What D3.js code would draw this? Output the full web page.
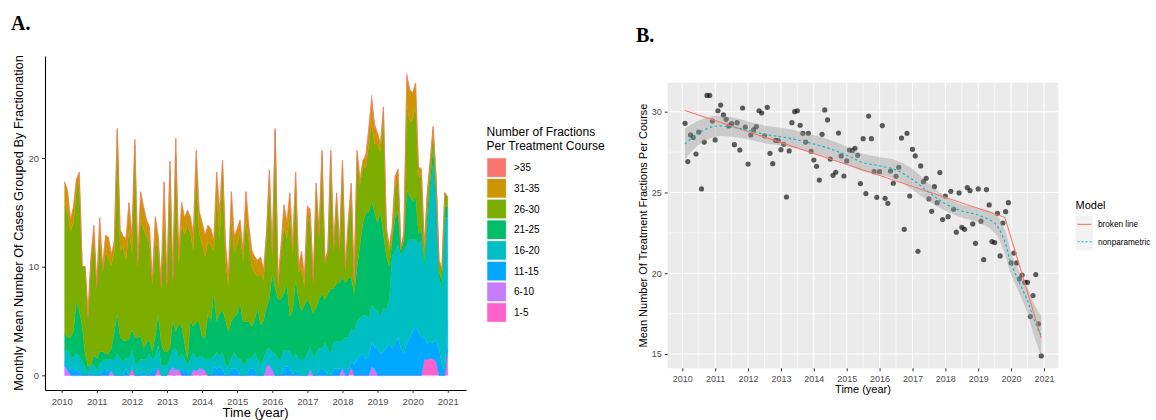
<!DOCTYPE html>
<html><head><meta charset="utf-8">
<script src="https://cdn.jsdelivr.net/npm/d3@7"></script>
<style>body{margin:0;background:#fff;} svg{display:block;font-family:"Liberation Sans",Arial,sans-serif;}</style>
</head><body><svg id="chart" width="1156" height="420"></svg>
<script>
// ================= DATA =================
// Panel A: monthly stacked values (Jan 2010 .. Dec 2020), 12 per row
const seriesKeys = ["1-5","6-10","11-15","16-20","21-25","26-30","31-35",">35"];
const legendOrder = [">35","31-35","26-30","21-25","16-20","11-15","6-10","1-5"];
const seriesColors = ["#FF61CC","#C77CFF","#00A9FF","#00BFC4","#00BE67","#7CAE00","#CD9600","#F8766D"];
const yearTicks = [2010,2011,2012,2013,2014,2015,2016,2017,2018,2019,2020,2021];
const yTicksA = [0,10,20];
const yTicksB = [15,20,25,30];

const f1_5 = [
0,0,0,0,0,0,0,0,0,0,0,0,
0,0,0,0,0,0,0,0,0,0,0,0.8,
0,0,0,0,0,0,0,0,0.8,0,0,0,
0.5,0,0,0.6,0,0,0,0,0,0.4,0,0,
0.5,0,0,0,0,0,0,0,0,0,0,0,
0,0,0,0,0,0,0,0,0,0,0,0,
0,0,0,0,0,0,0,0,0,0,0,0,
0,0,0,0,0,0,0,0,0,0,0,0,
0,0,0.8,0,0,0,0,0,0,0,0,0,
0,0,0,0,0,0,0,0,0,0,0,0,
0,0,0,1.5,1.4,1.6,1.5,1.3,0,0,0,2.3];
const f6_10 = [
0.9,0.5,0,0,0,0,0,0,0,0,0,0,
0,0,0,0,0.5,0,0,0,0,0,0,0,
0,0,0,0,0,0,0,0,0,0,0,0,
0,0.8,0.5,0,0,0,0,0,0.6,0,0.7,0.6,
0,0,0,0,0,0,0,0,0,0,0,0,
0,0,0,0,0,0,0,0,0,0.9,1.0,0.6,
0,0,0,0,0,0,0,0,0,0,0,0,
0.6,0,0,0,0,0,0,0,0,0,0,0.7,
0,0,0,0,0,0,0,0,0,0.8,0.6,0,
0,0,0,0,0,0,0,0,0,0,0,0,
0,0,0,0,0,0,0,0,0,0,0,0];
const f11_15 = [
0.3,0.3,0.5,0.6,0.5,0.3,0,0,0,0.3,0,0,
0,0.5,0.5,0.4,0,0,0,0,0,0.6,0,0,
0,0,0,0.4,0,0,0.6,0.5,0,0,0,0,
0,0,0,0,0.5,0.5,0.5,0,0,0,0,0,
0,0,0,0.8,0.6,0.8,0.6,0,0,0.6,0.6,0.6,
0,0,0,0.6,0.6,0.6,0,0,0,0,0,0,
0,0,0,0.8,0.8,0.8,0,0.5,0,0,0,0,
0,0,0,0.5,0.5,0.5,0,0,0.6,0.6,0.6,0,
0.5,0.5,0.5,1.0,1.5,1.8,2.0,1.5,1.8,2.2,2.0,2.5,
2.0,2.2,2.5,3.0,2.5,3.0,3.5,2.5,2.0,3.0,3.5,4.0,
4.5,4.0,3.5,2.0,1.5,1.5,1.5,2.0,2.5,1.0,0.5,2.8];
const f16_20 = [
1.2,1.5,1.3,1.0,1.5,1.5,1.2,0.8,0.3,0.7,1.0,0.5,
1.0,0.8,1.0,1.0,1.0,1.5,2.0,1.5,1.2,1.0,1.5,1.5,
1.2,1.0,1.5,1.0,1.5,2.0,0.8,1.2,2.0,1.0,0.8,1.0,
1.0,1.5,2.0,1.0,1.5,1.0,0.5,1.5,1.5,1.2,1.0,1.2,
1.0,1.5,1.5,1.0,1.5,1.0,1.5,1.0,0.8,1.0,1.5,1.0,
1.5,1.0,1.2,1.0,1.0,1.5,1.5,1.0,1.5,1.5,1.5,1.5,
2.0,1.5,1.5,1.5,1.5,1.5,1.5,1.5,1.5,1.5,1.5,2.0,
2.0,1.5,2.0,2.0,2.0,2.5,2.5,2.0,2.5,2.5,2.5,2.5,
3.0,3.0,3.0,3.0,3.5,3.5,3.5,4.0,3.5,3.5,3.5,3.5,
3.5,4.0,3.5,4.0,8.5,8.5,8.5,8.5,9.5,9.0,9.0,8.5,
8.0,8.0,9.0,6.5,11.0,14.0,16.5,13.0,6.5,7.0,14.0,9.5];
const f21_25 = [
1.5,1.2,1.7,2.4,4.9,4.2,3.3,1.2,0.5,0,0.9,1.0,
1.2,0.9,0.5,0.6,1.0,2.5,3.7,2.0,2.0,1.6,1.8,1.9,
2.3,2.5,2.1,1.1,1.5,1.3,0.8,1.9,2.9,2.0,1.4,1.2,
1.0,2.8,1.5,3.2,2.5,1.5,0.5,3.6,2.4,3.3,3.2,1.8,
1.9,4.2,3.5,5.8,2.9,3.9,3.9,4.1,3.2,3.4,3.3,4.1,
5.1,4.0,3.7,3.4,2.9,3.0,4.8,3.6,3.5,3.9,4.5,7.3,
6.0,5.5,5.5,5.2,6.2,3.1,4.5,6.8,5.5,4.4,5.0,5.0,
3.9,4.2,4.3,4.5,5.0,4.0,5.0,6.0,4.9,5.4,5.4,5.8,
5.0,5.5,4.7,3.5,5.0,6.7,8.5,9.5,9.7,9.5,8.9,8.0,
9.5,6.8,5.0,3.0,1.5,3.0,3.0,0.5,1.0,5.0,4.0,3.5,
4.0,1.0,1.0,0.5,0.9,0.9,1.5,0.7,0.5,0.8,1.0,0.9];
const f26_30 = [
11.6,11.5,9.8,10.0,10.1,11.9,5.5,8.0,4.5,9.4,10.7,6.5,
10.8,7.3,9.4,8.7,7.6,7.4,16.5,7.9,8.6,7.4,10.1,7.1,
17.7,6.5,10.8,11.0,9.8,8.9,6.1,8.5,6.1,5.0,13.1,6.0,
16.4,3.4,16.3,5.4,9.4,10.0,12.2,8.0,7.0,14.3,8.2,8.5,
7.5,6.6,7.0,3.8,11.7,6.9,13.3,5.5,4.1,9.4,5.9,6.3,
6.7,5.5,9.5,7.2,5.5,4.3,2.8,4.8,3.7,6.2,10.9,1.5,
14.4,1.2,4.5,6.2,4.1,9.4,5.1,8.9,2.5,4.0,1.6,7.6,
7.6,2.8,10.6,5.6,12.7,3.3,3.7,12.2,3.5,7.8,3.0,10.3,
1.2,4.8,7.7,1.0,10.2,5.5,5.3,4.1,6.1,7.2,6.3,7.3,
5.5,11.2,2.4,1.5,0.4,2.8,3.0,0.0,0.3,8.0,6.8,7.5,
8.4,5.4,4.7,1.0,1.7,1.5,1.6,1.0,1.1,0.9,1.3,0.9];
const f31_35 = [
2.3,2.0,1.0,1.5,1.0,0.8,0,0,0.4,0.5,1.2,0.3,
1.5,0.5,1.5,2.0,1.0,1.0,0.5,2.0,1.0,2.0,2.5,1.5,
0.5,0.5,2.5,2.0,1.5,1.5,0.5,2.5,1.0,0.5,2.5,0.3,
0.8,0.5,1.5,0.8,2.0,1.5,1.5,1.5,1.5,1.5,2.0,2.0,
2.0,1.5,1.5,1.0,2.0,2.5,0.5,1.5,1.0,2.5,1.5,1.5,
1.0,1.0,2.5,1.5,1.5,1.5,1.5,1.5,1.0,0.5,1.0,0.5,
0.3,0.3,0.5,2.0,1.5,2.0,1.0,1.0,0.5,1.5,1.0,1.0,
0.8,0.3,0.8,0.5,0.5,0.3,0.3,0.5,0.3,0.5,0.3,0.5,
0.3,0.5,1.0,0.3,0.5,0.5,0.5,1.0,1.5,2.0,1.5,1.0,
0.8,0.5,0.3,0.3,0.8,1.0,1.0,0.3,0.3,2.5,3.0,2.5,
2.0,0.8,0.8,0.3,0.3,0.3,0.3,0.3,0,0,0,0];
const fOver35 = [
0,0,0,0,0,0,0,0,0,0,0,0,
0,0,0,0,0,0,0,0,0,0,0,0,
0,0,0,0,0,0,0,0,0,0,0,0,
0,0,0,0,0,0,0,0,0,0,0,0,
0,0,0,0,0,0,0,0,0,0,0,0,
0,0,0,0,0,0,0,0,0,0,0,0,
0,0,0,0,0,0,0,0,0,0,0,0,
0.4,0,0,0,0,0,0,0,0,0,0,0,
0,0,0,0,0,0,0,0.3,0.3,0.6,0.4,0,
0,0,0,0,0,0,0,0,0,0.3,0,0,
0,0,0,0,0,0,0,0,0,0,0,0];

// Panel B: monthly mean fractions per course (Feb 2010 .. Dec 2020), 12 per row
const meanFractions = [
29.28,26.91,28.56,28.41,27.38,28.74,25.22,28.12,31.01,31.01,29.42,28.25,
30.06,30.41,29.80,29.53,29.12,29.26,27.96,29.32,27.63,30.23,29.05,26.76,
28.56,28.87,29.07,30.06,29.92,28.50,30.27,27.42,26.78,28.23,28.21,27.65,
27.98,24.72,27.57,29.32,30.00,30.06,29.16,28.66,28.12,28.66,27.55,27.01,
26.62,25.77,28.60,30.11,29.49,27.07,26.06,26.25,28.68,27.26,26.02,26.95,
27.63,27.59,27.73,27.30,25.55,28.33,24.93,29.73,28.33,26.29,24.70,26.29,
29.14,24.64,24.33,26.33,25.57,26.00,26.56,28.37,22.72,28.66,24.78,27.67,
27.26,21.36,26.64,25.67,25.88,24.60,23.83,25.36,24.37,26.23,23.32,24.78,
23.50,25.07,23.96,22.54,24.97,22.84,22.72,25.30,25.11,23.05,21.85,25.22,
23.22,20.84,25.18,24.23,21.96,21.90,23.71,21.07,23.11,23.81,24.37,20.64,
21.24,20.64,19.65,19.89,19.44,19.44,17.32,18.62,19.92,16.86,14.88];
const brokenX = [2010.083, 2019.81, 2020.917];
const brokenY = [30.08, 23.46, 16.0];
const loessX = [2010.083,2010.5,2011.0,2011.5,2012.0,2012.5,2013.0,2013.5,2014.0,2014.5,2015.0,2015.5,2016.0,2016.5,2017.0,2017.5,2018.0,2018.5,2019.0,2019.5,2019.8,2020.0,2020.3,2020.5,2020.7,2020.917];
const loessY = [28.0,28.7,29.1,29.05,28.85,28.6,28.45,28.25,28.0,27.7,27.3,26.85,26.65,26.4,25.8,25.0,24.3,23.85,23.6,23.1,22.0,20.6,19.2,18.3,17.1,16.1];
const loessSE = [0.95,0.75,0.65,0.6,0.55,0.55,0.55,0.55,0.55,0.55,0.55,0.55,0.55,0.6,0.65,0.55,0.45,0.4,0.45,0.6,0.75,0.7,0.65,0.8,1.0,1.25];
const modelLabels = ["broken line","nonparametric"];

// ================= DRAW =================
const svg = d3.select("#chart");
const monthA = d3.range(1, 133).map(i => 2010 + i / 12);
const monthB = d3.range(1, 132).map(i => 2010 + i / 12);
const seriesArrays = [f1_5, f6_10, f11_15, f16_20, f21_25, f26_30, f31_35, fOver35];
const colorOf = d3.scaleOrdinal().domain(seriesKeys).range(seriesColors);

// ---- Panel A ----
const xA = d3.scaleLinear().domain([2009.524, 2021.52]).range([45, 466]);
const yA = d3.scaleLinear().domain([-1.35, 29.39]).range([390, 56]);
const rows = monthA.map((m, i) => {
  const r = {t: m};
  seriesKeys.forEach((k, j) => r[k] = seriesArrays[j][i]);
  return r;
});
const stacked = d3.stack().keys(seriesKeys)(rows);
const areaA = d3.area().x(d => xA(d.data.t)).y0(d => yA(d[0])).y1(d => yA(d[1]));
svg.append("g").selectAll("path").data(stacked).join("path")
  .attr("d", areaA).attr("fill", d => colorOf(d.key))
  .attr("stroke", d => colorOf(d.key)).attr("stroke-width", 0.4);

const gxA = svg.append("g").attr("transform", "translate(0,390)")
  .call(d3.axisBottom(xA).tickValues(yearTicks).tickFormat(d3.format("d")).tickSize(3).tickSizeOuter(0));
const gyA = svg.append("g").attr("transform", "translate(45,0)")
  .call(d3.axisLeft(yA).tickValues(yTicksA).tickSize(3).tickSizeOuter(0));
[gxA, gyA].forEach(g => {
  g.select(".domain").attr("stroke", "#000").attr("stroke-width", 1.1);
  g.selectAll(".tick line").attr("stroke", "#333");
  g.selectAll(".tick text").attr("fill", "#4D4D4D").attr("font-size", 9.5).attr("font-family", "Liberation Sans, Arial, sans-serif");
});
gxA.selectAll(".tick text").attr("dy", "0.95em");

svg.append("text").attr("x", 255.5).attr("y", 417).attr("text-anchor", "middle")
  .attr("font-size", 13).text("Time (year)");
svg.append("text").attr("transform", "translate(23,223) rotate(-90)").attr("text-anchor", "middle")
  .attr("font-size", 12.8).text("Monthly Mean Number Of Cases Grouped By Fractionation");

// legend A
const legA = svg.append("g");
legA.append("text").attr("x", 486.5).attr("y", 136).attr("font-size", 12).text("Number of Fractions");
legA.append("text").attr("x", 486.5).attr("y", 150).attr("font-size", 12).text("Per Treatment Course");
legendOrder.forEach((k, i) => {
  const top = 158.3 + i * 20.7;
  legA.append("rect").attr("x", 486.5).attr("y", top - 1).attr("width", 20.4).attr("height", 20.4).attr("fill", "#F2F2F2");
  legA.append("rect").attr("x", 487.3).attr("y", top).attr("width", 18.6).attr("height", 18.6).attr("fill", colorOf(k));
  legA.append("text").attr("x", 514).attr("y", top + 9.3).attr("dy", "0.35em").attr("font-size", 10).text(k);
});

// ---- Panel B ----
const xB = d3.scaleLinear().domain([2009.556, 2021.435]).range([667.7, 1058.3]);
const yB = d3.scaleLinear().domain([14.115, 31.795]).range([368.3, 82.7]);
svg.append("rect").attr("x", 667.7).attr("y", 82.7).attr("width", 390.6).attr("height", 285.6).attr("fill", "#EBEBEB");
const gridB = svg.append("g");
const minorX = yearTicks.slice(0, -1).map(y => y + 0.5);
const minorY = yTicksB.slice(0, -1).map(v => v + 2.5);
gridB.selectAll(".mx").data(minorX).join("line").attr("x1", d => xB(d)).attr("x2", d => xB(d))
  .attr("y1", 82.7).attr("y2", 368.3).attr("stroke", "#fff").attr("stroke-width", 0.55);
gridB.selectAll(".my").data(minorY).join("line").attr("y1", d => yB(d)).attr("y2", d => yB(d))
  .attr("x1", 667.7).attr("x2", 1058.3).attr("stroke", "#fff").attr("stroke-width", 0.55);
gridB.selectAll(".Mx").data(yearTicks).join("line").attr("x1", d => xB(d)).attr("x2", d => xB(d))
  .attr("y1", 82.7).attr("y2", 368.3).attr("stroke", "#fff").attr("stroke-width", 1.1);
gridB.selectAll(".My").data(yTicksB).join("line").attr("y1", d => yB(d)).attr("y2", d => yB(d))
  .attr("x1", 667.7).attr("x2", 1058.3).attr("stroke", "#fff").attr("stroke-width", 1.1);

svg.append("g").selectAll("circle").data(meanFractions).join("circle")
  .attr("cx", (d, i) => xB(monthB[i])).attr("cy", d => yB(d)).attr("r", 2.6)
  .attr("fill", "#000").attr("fill-opacity", 0.62);

const loess = loessX.map((x, i) => ({x, y: loessY[i], se: loessSE[i]}));
svg.append("path").datum(loess)
  .attr("d", d3.area().x(d => xB(d.x)).y0(d => yB(d.y - d.se)).y1(d => yB(d.y + d.se)).curve(d3.curveCatmullRom))
  .attr("fill", "#999").attr("fill-opacity", 0.4);
svg.append("path").datum(brokenX.map((x, i) => ({x, y: brokenY[i]})))
  .attr("d", d3.line().x(d => xB(d.x)).y(d => yB(d.y)))
  .attr("fill", "none").attr("stroke", "#F8766D").attr("stroke-width", 1.1);
svg.append("path").datum(loess)
  .attr("d", d3.line().x(d => xB(d.x)).y(d => yB(d.y)).curve(d3.curveCatmullRom))
  .attr("fill", "none").attr("stroke", "#00BFC4").attr("stroke-width", 1.1).attr("stroke-dasharray", "2.5,2.5");

const gxB = svg.append("g").attr("transform", "translate(0,368.3)")
  .call(d3.axisBottom(xB).tickValues(yearTicks).tickFormat(d3.format("d")).tickSize(3).tickSizeOuter(0));
const gyB = svg.append("g").attr("transform", "translate(667.7,0)")
  .call(d3.axisLeft(yB).tickValues(yTicksB).tickSize(3).tickSizeOuter(0));
[gxB, gyB].forEach(g => {
  g.select(".domain").remove();
  g.selectAll(".tick line").attr("stroke", "#333");
  g.selectAll(".tick text").attr("fill", "#4D4D4D").attr("font-size", 9).attr("font-family", "Liberation Sans, Arial, sans-serif");
});
gxB.selectAll(".tick text").attr("dy", "0.9em");

svg.append("text").attr("x", 863).attr("y", 393).attr("text-anchor", "middle")
  .attr("font-size", 11).text("Time (year)");
svg.append("text").attr("transform", "translate(647,225.5) rotate(-90)").attr("text-anchor", "middle")
  .attr("font-size", 11).text("Mean Number Of Treatment Fractions Per Course");

// legend B
const legB = svg.append("g");
legB.append("text").attr("x", 1075.5).attr("y", 209).attr("font-size", 11).text("Model");
modelLabels.forEach((lab, i) => {
  const cy = 224.4 + i * 17.3;
  legB.append("rect").attr("x", 1075.5).attr("y", cy - 8.6).attr("width", 17.3).attr("height", 17.3).attr("fill", "#F2F2F2");
  legB.append("line").attr("x1", 1077.5).attr("x2", 1091.5).attr("y1", cy).attr("y2", cy)
    .attr("stroke", i === 0 ? "#F8766D" : "#00BFC4").attr("stroke-width", 1.1)
    .attr("stroke-dasharray", i === 0 ? null : "2,2");
  legB.append("text").attr("x", 1098).attr("y", cy).attr("dy", "0.35em").attr("font-size", 8.2).text(lab);
});

// panel letters
svg.append("text").attr("x", 11).attr("y", 30).attr("font-family", "Liberation Serif, Times New Roman, serif")
  .attr("font-weight", "bold").attr("font-size", 20).text("A.");
svg.append("text").attr("x", 636).attr("y", 42).attr("font-family", "Liberation Serif, Times New Roman, serif")
  .attr("font-weight", "bold").attr("font-size", 20).text("B.");
</script>
</body></html>
